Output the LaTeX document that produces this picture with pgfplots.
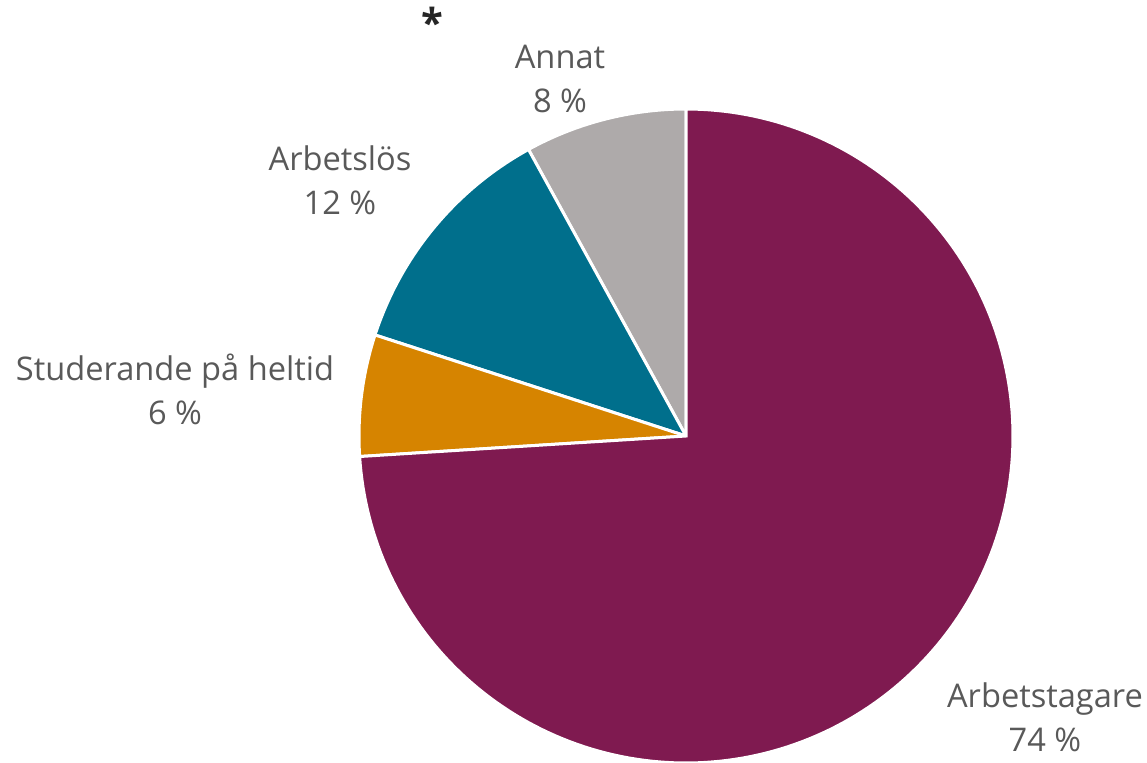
\documentclass[border=0pt]{standalone}
\usepackage{pgfplots}
\pgfplotsset{compat=1.18}
\usepackage{pgfplotstable}
\usepackage{fontspec}
\setmainfont{Open Sans}
\definecolor{cWork}{HTML}{7F1A50}
\definecolor{cStud}{HTML}{D68400}
\definecolor{cUnemp}{HTML}{006F8C}
\definecolor{cOther}{HTML}{AEAAAA}
\definecolor{cText}{HTML}{595959}
% share (%) of each group, in drawing order counter-clockwise from 12 o'clock
\pgfplotstableread{
label share
Annat 8
Arbetslos 12
Studerande 6
Arbetstagare 74
}\piedata
\begin{document}
\begin{tikzpicture}[x=0.5pt,y=0.5pt,
  lbl/.style={font=\fontsize{16.3}{22}\selectfont, text=cText, align=center, inner sep=0pt}]
\useasboundingbox (0,0) rectangle (1147,762);
\pgfmathsetmacro{\cx}{686}
\pgfmathsetmacro{\cy}{326}
\pgfmathsetmacro{\R}{327}
\pgfplotstablegetelem{0}{share}\of\piedata \let\sA\pgfplotsretval
\pgfplotstablegetelem{1}{share}\of\piedata \let\sB\pgfplotsretval
\pgfplotstablegetelem{2}{share}\of\piedata \let\sC\pgfplotsretval
\pgfplotstablegetelem{3}{share}\of\piedata \let\sD\pgfplotsretval
\pgfmathsetmacro{\aA}{90}
\pgfmathsetmacro{\aB}{\aA+3.6*\sA}
\pgfmathsetmacro{\aC}{\aB+3.6*\sB}
\pgfmathsetmacro{\aD}{\aC+3.6*\sC}
\pgfmathsetmacro{\aE}{\aD+3.6*\sD}
\begin{axis}[
  at={(0,0)}, anchor=south west,
  scale only axis, width=573.5pt, height=381pt,
  xmin=0, xmax=1147, ymin=0, ymax=762,
  hide axis, clip=false,
]
\addplot[fill=cOther, draw=white, line width=1.5pt, domain=\aA:\aB, samples=40]
  ({\cx+\R*cos(x)},{\cy+\R*sin(x)}) -- (axis cs:\cx,\cy) -- cycle;
\addplot[fill=cUnemp, draw=white, line width=1.5pt, domain=\aB:\aC, samples=40]
  ({\cx+\R*cos(x)},{\cy+\R*sin(x)}) -- (axis cs:\cx,\cy) -- cycle;
\addplot[fill=cStud, draw=white, line width=1.5pt, domain=\aC:\aD, samples=30]
  ({\cx+\R*cos(x)},{\cy+\R*sin(x)}) -- (axis cs:\cx,\cy) -- cycle;
\addplot[fill=cWork, draw=white, line width=1.5pt, domain=\aD:\aE, samples=200]
  ({\cx+\R*cos(x)},{\cy+\R*sin(x)}) -- (axis cs:\cx,\cy) -- cycle;
\node[lbl] at (axis cs:560,683) {Annat\\\sA~\%};
\node[lbl] at (axis cs:340,582) {Arbetslös\\\sB~\%};
\node[lbl] at (axis cs:175,373) {Studerande på heltid\\\sC~\%};
\node[lbl] at (axis cs:1045,45) {Arbetstagare\\\sD~\%};
\node[text=black!85, font=\fontsize{20}{22}\selectfont\bfseries] at (axis cs:432,740) {*};
\end{axis}
\end{tikzpicture}
\end{document}
